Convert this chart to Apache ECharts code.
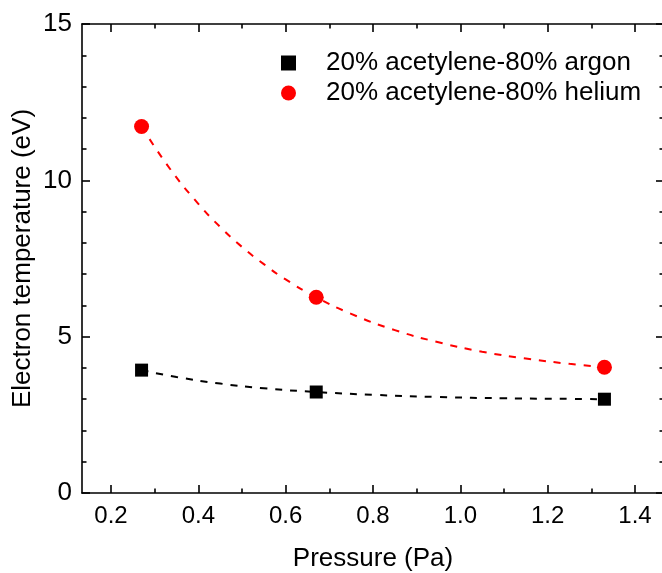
<!DOCTYPE html>
<html>
<head>
<meta charset="utf-8">
<script src="https://cdn.jsdelivr.net/npm/echarts@6/dist/echarts.min.js"></script>
<style>
html,body{margin:0;padding:0;background:#fff;}
#chart{width:662px;height:573px;}
</style>
</head>
<body>
<div id="chart"></div>
<script>
// ---- data ----
const seriesNames = ['20% acetylene-80% argon', '20% acetylene-80% helium'];
const pressure = [0.27, 0.67, 1.33];
const argonTe = [3.93, 3.23, 3.00];
const heliumTe = [11.72, 6.26, 4.02];
// dashed fit curves
const argonFitX = [0.27, 0.35, 0.45, 0.55, 0.67, 0.80, 0.95, 1.10, 1.25, 1.33];
const argonFitY = [3.93, 3.71, 3.50, 3.35, 3.23, 3.14, 3.07, 3.03, 3.01, 3.00];
const heliumFitX = [0.27, 0.335, 0.40, 0.45, 0.50, 0.55, 0.60, 0.67, 0.75, 0.85, 0.95, 1.05, 1.15, 1.25, 1.33];
const heliumFitY = [11.72, 10.37, 9.25, 8.51, 7.87, 7.32, 6.83, 6.26, 5.73, 5.21, 4.82, 4.52, 4.30, 4.13, 4.02];
const xMajorTicks = [0.2, 0.4, 0.6, 0.8, 1.0, 1.2, 1.4];
const xMinorTicks = [0.3, 0.5, 0.7, 0.9, 1.1, 1.3];
const xMin = 0.1336, xMax = 1.4664;
const yMin = 0, yMax = 15, yInterval = 5;

const zip = (a, b) => a.map((v, i) => [v, b[i]]);
const FONT = 'Liberation Sans, Arial, Helvetica, sans-serif';
const lineStyle = {color: '#000', width: 1.6};

function xAxisDef(pos, ticks, len, showLabel, showLine) {
  return {
    type: 'value', position: pos, min: xMin, max: xMax,
    axisLine: {show: showLine, onZero: false, lineStyle: lineStyle},
    axisTick: {show: true, inside: true, length: len, customValues: ticks, lineStyle: lineStyle},
    axisLabel: {show: showLabel, customValues: ticks, margin: 11, color: '#000', fontSize: 24, fontFamily: FONT,
      formatter: v => v.toFixed(1)},
    splitLine: {show: false}
  };
}
function yAxisDef(pos, showLabel) {
  return {
    type: 'value', position: pos, min: yMin, max: yMax, interval: yInterval,
    axisLine: {show: true, onZero: false, lineStyle: lineStyle},
    axisTick: {show: true, inside: true, length: 8, lineStyle: lineStyle},
    minorTick: {show: true, splitNumber: 5, length: 4.5, lineStyle: {color: '#000', width: 1.6}},
    axisLabel: {show: showLabel, margin: 10, color: '#000', fontSize: 26, fontFamily: FONT},
    splitLine: {show: false}, minorSplitLine: {show: false}
  };
}

const xb = xAxisDef('bottom', xMajorTicks, 8, true, true);
xb.name = 'Pressure (Pa)';
xb.nameLocation = 'middle';
xb.nameGap = 53;
xb.nameMoveOverlap = false;
xb.nameTextStyle = {color: '#000', fontSize: 26, fontFamily: FONT};
const yl = yAxisDef('left', true);
yl.name = 'Electron temperature (eV)';
yl.nameLocation = 'middle';
yl.nameGap = 46;
yl.nameMoveOverlap = false;
yl.nameTextStyle = {color: '#000', fontSize: 26, fontFamily: FONT};

const option = {
  backgroundColor: '#fff',
  animation: false,
  grid: {left: 82, top: 24, right: -2, bottom: 80, containLabel: false, outerBoundsMode: 'none'},
  xAxis: [
    xb,
    xAxisDef('bottom', xMinorTicks, 4.5, false, false),
    xAxisDef('top', xMajorTicks, 8, false, true),
    xAxisDef('top', xMinorTicks, 4.5, false, false)
  ],
  yAxis: [yl, yAxisDef('right', false)],
  legend: {
    orient: 'vertical', left: 276, top: 45,
    itemWidth: 65, itemHeight: 15, itemGap: 4,
    data: [
      {name: seriesNames[0], icon: 'path://M0,0L10,0L10,10L0,10Z'},
      {name: seriesNames[1], icon: 'circle'}
    ],
    textStyle: {color: '#000', fontSize: 26, fontFamily: FONT, lineHeight: 26}
  },
  series: [
    {type: 'line', data: zip(argonFitX, argonFitY), smooth: true, showSymbol: false, symbol: 'none',
      lineStyle: {color: '#000', width: 2, type: [7, 8]}, silent: true, z: 1},
    {type: 'line', data: zip(heliumFitX, heliumFitY), smooth: true, showSymbol: false, symbol: 'none',
      lineStyle: {color: '#ff0000', width: 2, type: [7, 8]}, silent: true, z: 1},
    {name: seriesNames[0], type: 'scatter', data: zip(pressure, argonTe), symbol: 'rect', symbolSize: 13,
      itemStyle: {color: '#000', opacity: 1}, z: 3},
    {name: seriesNames[1], type: 'scatter', data: zip(pressure, heliumTe), symbol: 'circle', symbolSize: 15,
      itemStyle: {color: '#ff0000', opacity: 1}, z: 3}
  ]
};
const chart = echarts.init(document.getElementById('chart'), null, {renderer: 'canvas'});
chart.setOption(option);
</script>
</body>
</html>
